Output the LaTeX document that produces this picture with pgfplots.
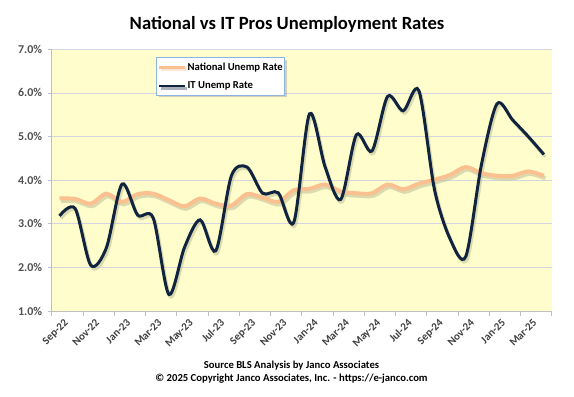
\documentclass[border=0pt]{standalone}
\usepackage{pgfplots}
\pgfplotsset{compat=1.18}
\usepackage{fontspec}
\setmainfont{Carlito}
\usetikzlibrary{shadows}
\definecolor{bgyellow}{RGB}{255,253,204}
\definecolor{gridc}{RGB}{212,212,226}
\definecolor{axisc}{RGB}{191,191,191}
\definecolor{itc}{RGB}{16,36,64}
\definecolor{natc}{RGB}{250,192,143}
\definecolor{shadc}{RGB}{190,190,150}
\definecolor{tickc}{RGB}{80,80,80}
\definecolor{legc}{RGB}{142,180,227}

\pgfplotstableread{
i nat it
0 3.58 3.18
1 3.57 3.35
2 3.46 2.05
3 3.69 2.45
4 3.50 3.91
5 3.68 3.20
6 3.69 3.13
7 3.54 1.38
8 3.40 2.46
9 3.58 3.09
10 3.46 2.38
11 3.42 4.10
12 3.68 4.30
13 3.60 3.70
14 3.50 3.71
15 3.77 3.04
16 3.80 5.52
17 3.90 4.30
18 3.74 3.56
19 3.70 5.04
20 3.70 4.67
21 3.90 5.92
22 3.79 5.59
23 3.92 6.05
24 4.01 3.78
25 4.12 2.65
26 4.30 2.25
27 4.16 4.35
28 4.10 5.75
29 4.10 5.38
30 4.20 5.00
31 4.10 4.59
}\data

\begin{document}
\begin{tikzpicture}
\path[use as bounding box] (0,0) rectangle (574bp,397bp);
\begin{axis}[
  scale only axis,
  width=500bp, height=261.7bp,
  at={(51.7bp,86bp)}, anchor=south west,
  xmin=-0.5, xmax=31.5, ymin=1, ymax=7,
  axis background/.style={fill=bgyellow},
  axis x line*=bottom, axis y line*=left,
  axis line style={axisc, line width=0.8bp},
  ymajorgrids, grid style={gridc, line width=0.8bp},
  ytick={1,2,...,7},
  yticklabel={\pgfmathprintnumber[fixed,fixed zerofill,precision=1]{\tick}\%},
  /pgf/number format/assume math mode=true,
  yticklabel style={font=\fontsize{12}{14}\selectfont\bfseries, text=tickc, anchor=east, xshift=-2bp},
  xtick={0,2,...,30},
  xticklabels={Sep-22,Nov-22,Jan-23,Mar-23,May-23,Jul-23,Sep-23,Nov-23,Jan-24,Mar-24,May-24,Jul-24,Sep-24,Nov-24,Jan-25,Mar-25},
  xticklabel style={font=\fontsize{11}{13}\selectfont\bfseries, text=tickc!80!black, rotate=45, anchor=north east, inner sep=0.5bp, yshift=-4.5bp, xshift=1bp},
  minor xtick={-0.5,1.5,...,31.5},
  tick align=outside,
  major x tick style={draw=none},
  minor tick length=5bp, major tick length=4bp,
  every tick/.style={axisc, line width=0.8bp},
  legend style={at={(0.209,0.969)}, anchor=north west, fill=white, draw=legc, line width=0.8bp,
    drop shadow={shadow xshift=2bp, shadow yshift=-2bp, opacity=0.35},
    font=\fontsize{10.7}{12}\selectfont\bfseries, inner xsep=1bp, inner ysep=4bp, row sep=8bp,
    nodes={inner sep=1bp}},
  legend cell align=left,
]
\addplot[forget plot, shadc, opacity=0.55, line width=4bp, smooth, tension=0.5, xshift=1.5bp, yshift=-2.5bp] table[x=i,y=nat]{\data};
\addplot[forget plot, shadc, opacity=0.55, line width=3.2bp, smooth, tension=0.5, xshift=1.5bp, yshift=-2.5bp] table[x=i,y=it]{\data};
\addplot[natc, line width=4bp, smooth, tension=0.5,
  legend image code/.code={\draw[natc, line width=3bp] (0bp,0bp) -- (26bp,0bp);}] table[x=i,y=nat]{\data};
\addlegendentry{National Unemp Rate}
\addplot[itc, line width=3bp, smooth, tension=0.5,
  legend image code/.code={\draw[itc, line width=2.5bp] (0bp,0bp) -- (26bp,0bp);}] table[x=i,y=it]{\data};
\addlegendentry{IT Unemp Rate}
\end{axis}
\node[font=\fontsize{18.7}{22}\selectfont\bfseries] at (287bp,372.5bp) {National vs IT Pros Unemployment Rates};
\node[font=\fontsize{10.7}{12}\selectfont\bfseries] at (291.5bp,31.7bp) {Source BLS Analysis by Janco Associates};
\node[font=\fontsize{10.7}{12}\selectfont\bfseries] at (291.5bp,18.3bp) {© 2025 Copyright Janco Associates, Inc. - https://e-janco.com};
\end{tikzpicture}
\end{document}
